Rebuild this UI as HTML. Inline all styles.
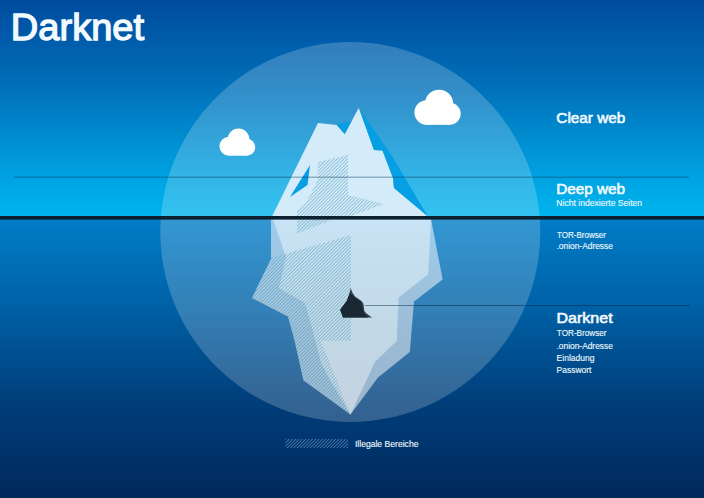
<!DOCTYPE html>
<html><head><meta charset="utf-8">
<style>
html,body{margin:0;padding:0;width:704px;height:498px;overflow:hidden;background:#0a3a7a}
svg{display:block}
text{font-family:"Liberation Sans",sans-serif;fill:#f2faff}
</style></head><body>
<svg width="704" height="498" viewBox="0 0 704 498">
<defs>
<linearGradient id="sky" x1="0" y1="0" x2="0" y2="217" gradientUnits="userSpaceOnUse">
<stop offset="0" stop-color="#004b9c"/>
<stop offset="0.028" stop-color="#004e9f"/>
<stop offset="0.417" stop-color="#0072bb"/>
<stop offset="0.787" stop-color="#009fdf"/>
<stop offset="1" stop-color="#00b5ee"/>
</linearGradient>
<linearGradient id="sea" x1="0" y1="218" x2="0" y2="498" gradientUnits="userSpaceOnUse">
<stop offset="0" stop-color="#007fc8"/>
<stop offset="0.029" stop-color="#007bc4"/>
<stop offset="0.293" stop-color="#0063a9"/>
<stop offset="0.65" stop-color="#003f7b"/>
<stop offset="0.971" stop-color="#002a5e"/>
<stop offset="1" stop-color="#00295c"/>
</linearGradient>
<pattern id="hatch" patternUnits="userSpaceOnUse" width="2.4" height="2.4" patternTransform="rotate(45)">
<rect x="0" y="0" width="2.4" height="2.4" fill="#b0f0ff" fill-opacity="0.2"/>
<rect x="0" y="0" width="0.5" height="2.4" fill="#3a6688" fill-opacity="0.62"/>
</pattern>
<pattern id="hatchL" patternUnits="userSpaceOnUse" width="2.35" height="2.35" patternTransform="rotate(45)">
<rect x="0" y="0" width="0.6" height="2.35" fill="#86acdc" fill-opacity="0.75"/>
</pattern>
<linearGradient id="faceG" x1="0" y1="219" x2="0" y2="415" gradientUnits="userSpaceOnUse">
<stop offset="0" stop-color="#c8e3f5"/>
<stop offset="0.57" stop-color="#c2d8e6"/>
<stop offset="1" stop-color="#c4d2e0"/>
</linearGradient>
<linearGradient id="bandG" x1="0" y1="219" x2="0" y2="415" gradientUnits="userSpaceOnUse">
<stop offset="0" stop-color="#9fcdec"/>
<stop offset="0.57" stop-color="#9cbcd6"/>
<stop offset="1" stop-color="#98b4cc"/>
</linearGradient>
</defs>
<rect x="0" y="0" width="704" height="217" fill="url(#sky)"/>
<rect x="0" y="217" width="704" height="281" fill="url(#sea)"/>
<circle cx="350.3" cy="232" r="190" fill="#ffffff" fill-opacity="0.2"/>
<g fill="#fff" transform="translate(219.5,128.6) scale(1)">
<circle cx="9.5" cy="17.6" r="9.5"/><circle cx="19" cy="10.9" r="10.9"/><circle cx="27.2" cy="18.6" r="8.5"/>
<rect x="9.5" y="14" width="17.7" height="13.1"/></g>
<g fill="#fff" transform="translate(414.4,89.7) scale(1.297)">
<circle cx="9.5" cy="17.6" r="9.5"/><circle cx="19" cy="10.9" r="10.9"/><circle cx="27.2" cy="18.6" r="8.5"/>
<rect x="9.5" y="14" width="17.7" height="13.1"/></g>

<!-- iceberg above water -->
<polygon points="318,123 336.6,125 344.7,134 358.8,107.7 374,150 382.5,150.5 393,178 394,188 428,216.5 272,216.5" fill="#d4ecfa"/>
<polygon points="358.8,107.7 391,154.5 428,216.5 394,188 393,178 382.5,150.5 374,150" fill="#079fe4"/>
<polygon points="310,165 307.5,185 290,197" fill="#079fe4"/>
<polygon points="336.6,124.6 351.6,121 344.7,134" fill="#079fe4"/>
<polygon points="318,162 348,155 348,195 384,204 350,216.5 297,216.5 297,210 305,204 313,189.5 317.5,180" fill="url(#hatch)"/>

<!-- iceberg below water -->
<polygon points="271,219 431,219 442.6,279.5 414,301.4 409.8,352 378,377.5 350.5,414.5 303.4,380.2 294.7,341 288,316.5 252,298 271,259" fill="url(#bandG)"/>
<polygon points="273,219 431,219 428.2,274.2 398.5,297.5 396.8,341 375,361.8 350.5,414.5 329,378 321,363 311,324 305,303 279,288 286,257" fill="url(#faceG)"/>
<polygon points="297,219 334,219 297,233.5" fill="url(#hatch)"/>
<polygon points="271,258 351,235 351,341 320.6,340.4 350.5,414.5 303.4,380.2 294.7,341 288,316.5 252,298" fill="url(#hatch)"/>

<!-- rock -->
<polygon points="350.7,288 352.3,292.5 355,296.5 361.5,300.9 363.5,303.7 364.3,310.9 366.4,313.4 372,317.4 343,317.4 340.2,309.7 347,300.5 349.9,292.5" fill="#2e3e4a"/>
<polygon points="350.7,288 349.5,293.3 360.7,301.7 362.7,307.7 363.9,313.4 368.4,317.4 343,317.4 340.2,309.7 347,300.5 349.9,292.5" fill="#1a2833"/>

<!-- lines -->
<rect x="14" y="176.6" width="675" height="1.2" fill="#0a3a5a" fill-opacity="0.42"/>
<rect x="0" y="216" width="704" height="3.6" fill="#0d2030"/>
<rect x="365" y="305" width="325" height="1" fill="#00203a" fill-opacity="0.45"/>

<!-- legend -->
<rect x="285.3" y="438.9" width="62.9" height="9.1" fill="url(#hatchL)"/>

<text transform="translate(10.81,39.8) scale(1.010,1)" font-size="37.7" stroke="#f4fbff" stroke-width="1.3">Darknet</text>
<text transform="translate(556.34,123.3) scale(1.002,1)" font-size="15.3" stroke="#f4fbff" stroke-width="0.6">Clear web</text>
<text transform="translate(556.18,193.7) scale(1.000,1)" font-size="15.3" stroke="#f4fbff" stroke-width="0.6">Deep web</text>
<text transform="translate(556.54,322.7) scale(1.048,1)" font-size="15.3" stroke="#f4fbff" stroke-width="0.6">Darknet</text>
<text transform="translate(556.31,206.4) scale(1.034,1)" font-size="8.3" stroke="#eef9ff" stroke-width="0.12">Nicht indexierte Seiten</text>
<text transform="translate(556.94,237.5) scale(0.972,1)" font-size="8.3" stroke="#eef9ff" stroke-width="0.12">TOR-Browser</text>
<text transform="translate(556.54,249) scale(1.011,1)" font-size="8.3" stroke="#eef9ff" stroke-width="0.12">.onion-Adresse</text>
<text transform="translate(556.84,335.8) scale(0.984,1)" font-size="8.3" stroke="#eef9ff" stroke-width="0.12">TOR-Browser</text>
<text transform="translate(556.55,348.7) scale(1.009,1)" font-size="8.3" stroke="#eef9ff" stroke-width="0.12">.onion-Adresse</text>
<text transform="translate(556.62,361) scale(1.028,1)" font-size="8.3" stroke="#eef9ff" stroke-width="0.12">Einladung</text>
<text transform="translate(556.62,373) scale(1.019,1)" font-size="8.3" stroke="#eef9ff" stroke-width="0.12">Passwort</text>
<text transform="translate(354.93,447) scale(1.037,1)" font-size="8.3" stroke="#eef9ff" stroke-width="0.12">Illegale Bereiche</text>

</svg>
</body></html>
